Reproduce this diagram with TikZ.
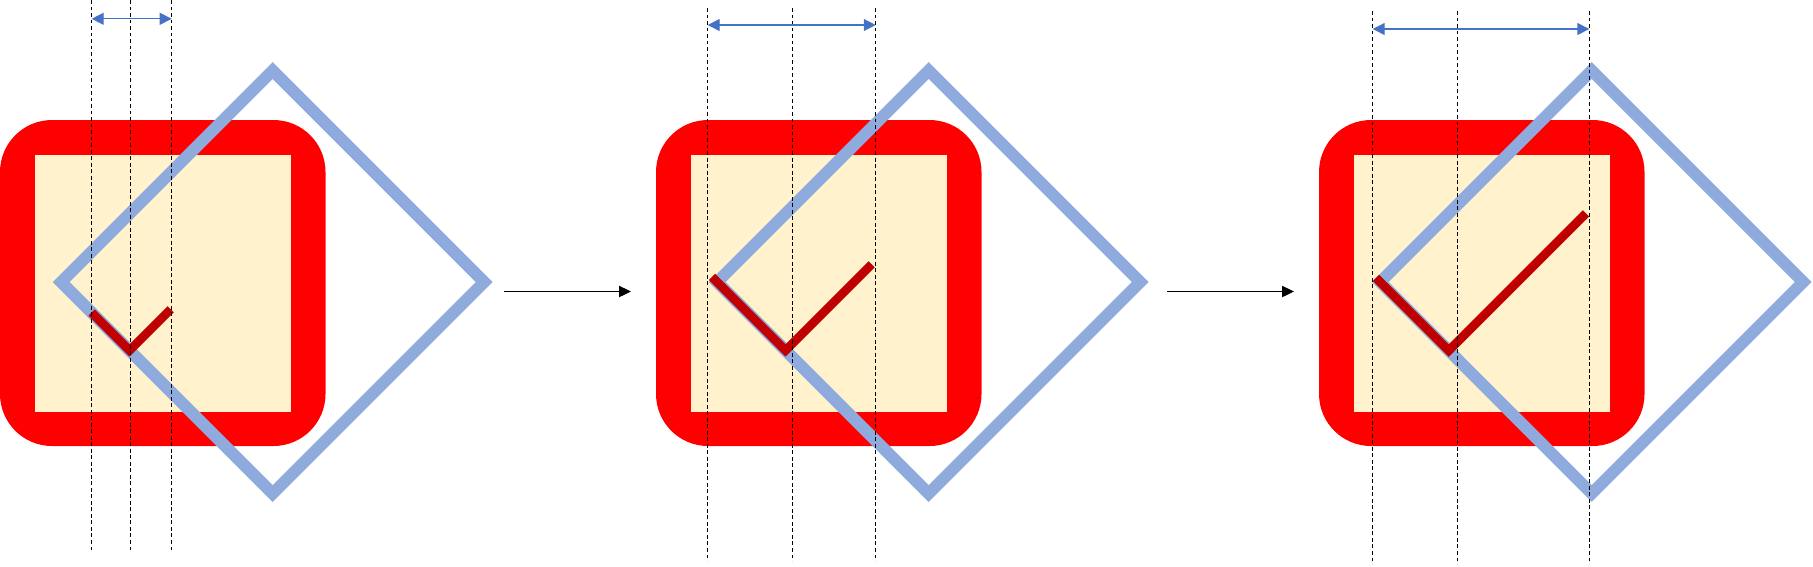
\documentclass[tikz,border=0pt]{standalone}
\usetikzlibrary{arrows.meta}

\definecolor{frameRed}{HTML}{FF0000}
\definecolor{creamFill}{HTML}{FFF2CC}
\definecolor{diamondBlue}{HTML}{8FAADC}
\definecolor{tickRed}{HTML}{C00000}
\definecolor{spanBlue}{HTML}{4472C4}

\tikzset{
  redframe/.style={fill=frameRed, rounded corners=0.52cm},
  creampanel/.style={fill=creamFill},
  bluediamond/.style={draw=diamondBlue, line width=3.4pt},
  checkline/.style={draw=tickRed, line width=2.5pt},
  guideline/.style={draw=black, line width=0.4pt, dash pattern=on 1.1pt off 0.75pt},
  spanarrow/.style={draw=spanBlue, line width=0.35pt,
    {Triangle[length=3.4pt,width=3.4pt]}-{Triangle[length=3.4pt,width=3.4pt]}},
  flowarrow/.style={draw=black, line width=0.35pt, -{Triangle[length=3.4pt,width=3.2pt]}}
}

% red frame, cream panel and the turned square, same in every stage
\newcommand{\stagebase}{%
  \path[redframe] (0,120) rectangle (325.5,446);
  \path[creampanel] (34.5,155) rectangle (291,411.7);
  \draw[bluediamond] (272.7,70.5) -- (484.2,282) -- (272.7,493.5) -- (61.2,282) -- cycle;
}

\begin{document}
\begin{tikzpicture}[x=0.01cm, y=-0.01cm]
    \useasboundingbox (0,0) rectangle (1813,566);

    % Stage 1 - short tick
    \begin{scope}[shift={(0,0)}]
        \stagebase
        \draw[checkline] (91.7,312.5) -- (129.6,350.4) -- (170.7,309.3);
        \foreach \gx in {91.7,130.7,171.7} {
            \draw[guideline] (\gx,0) -- (\gx,552);
        }
        \coordinate (spanAl) at (91.7,18.8);
        \coordinate (spanAr) at (171.7,18.8);
        \draw[spanarrow] (spanAl) -- (spanAr);
    \end{scope}

    % Stage 2 - tick grows
    \begin{scope}[shift={(656,0)}]
        \stagebase
        \draw[checkline] (56,276.8) -- (129.6,350.4) -- (215.7,264.3);
        \foreach \gx in {51.7,136.7,219.7} {
            \draw[guideline] (\gx,8) -- (\gx,561);
        }
        \coordinate (spanBl) at (51.7,25);
        \coordinate (spanBr) at (219.7,25);
        \draw[spanarrow] (spanBl) -- (spanBr);
    \end{scope}

    % Stage 3 - full tick
    \begin{scope}[shift={(1319,0)}]
        \stagebase
        \draw[checkline] (57,277.8) -- (129.8,350.6) -- (267,213.4);
        \foreach \gx in {53.7,138.3,270.3} {
            \draw[guideline] (\gx,11) -- (\gx,564);
        }
        \coordinate (spanCl) at (53.7,29);
        \coordinate (spanCr) at (270.3,29);
        \draw[spanarrow] (spanCl) -- (spanCr);
    \end{scope}

    % Arrows between stages
    \coordinate (flowAs) at (504,291.5);
    \coordinate (flowAe) at (631,291.5);
    \coordinate (flowBs) at (1167,291.5);
    \coordinate (flowBe) at (1294,291.5);
    \draw[flowarrow] (flowAs) -- (flowAe);
    \draw[flowarrow] (flowBs) -- (flowBe);
\end{tikzpicture}
\end{document}
